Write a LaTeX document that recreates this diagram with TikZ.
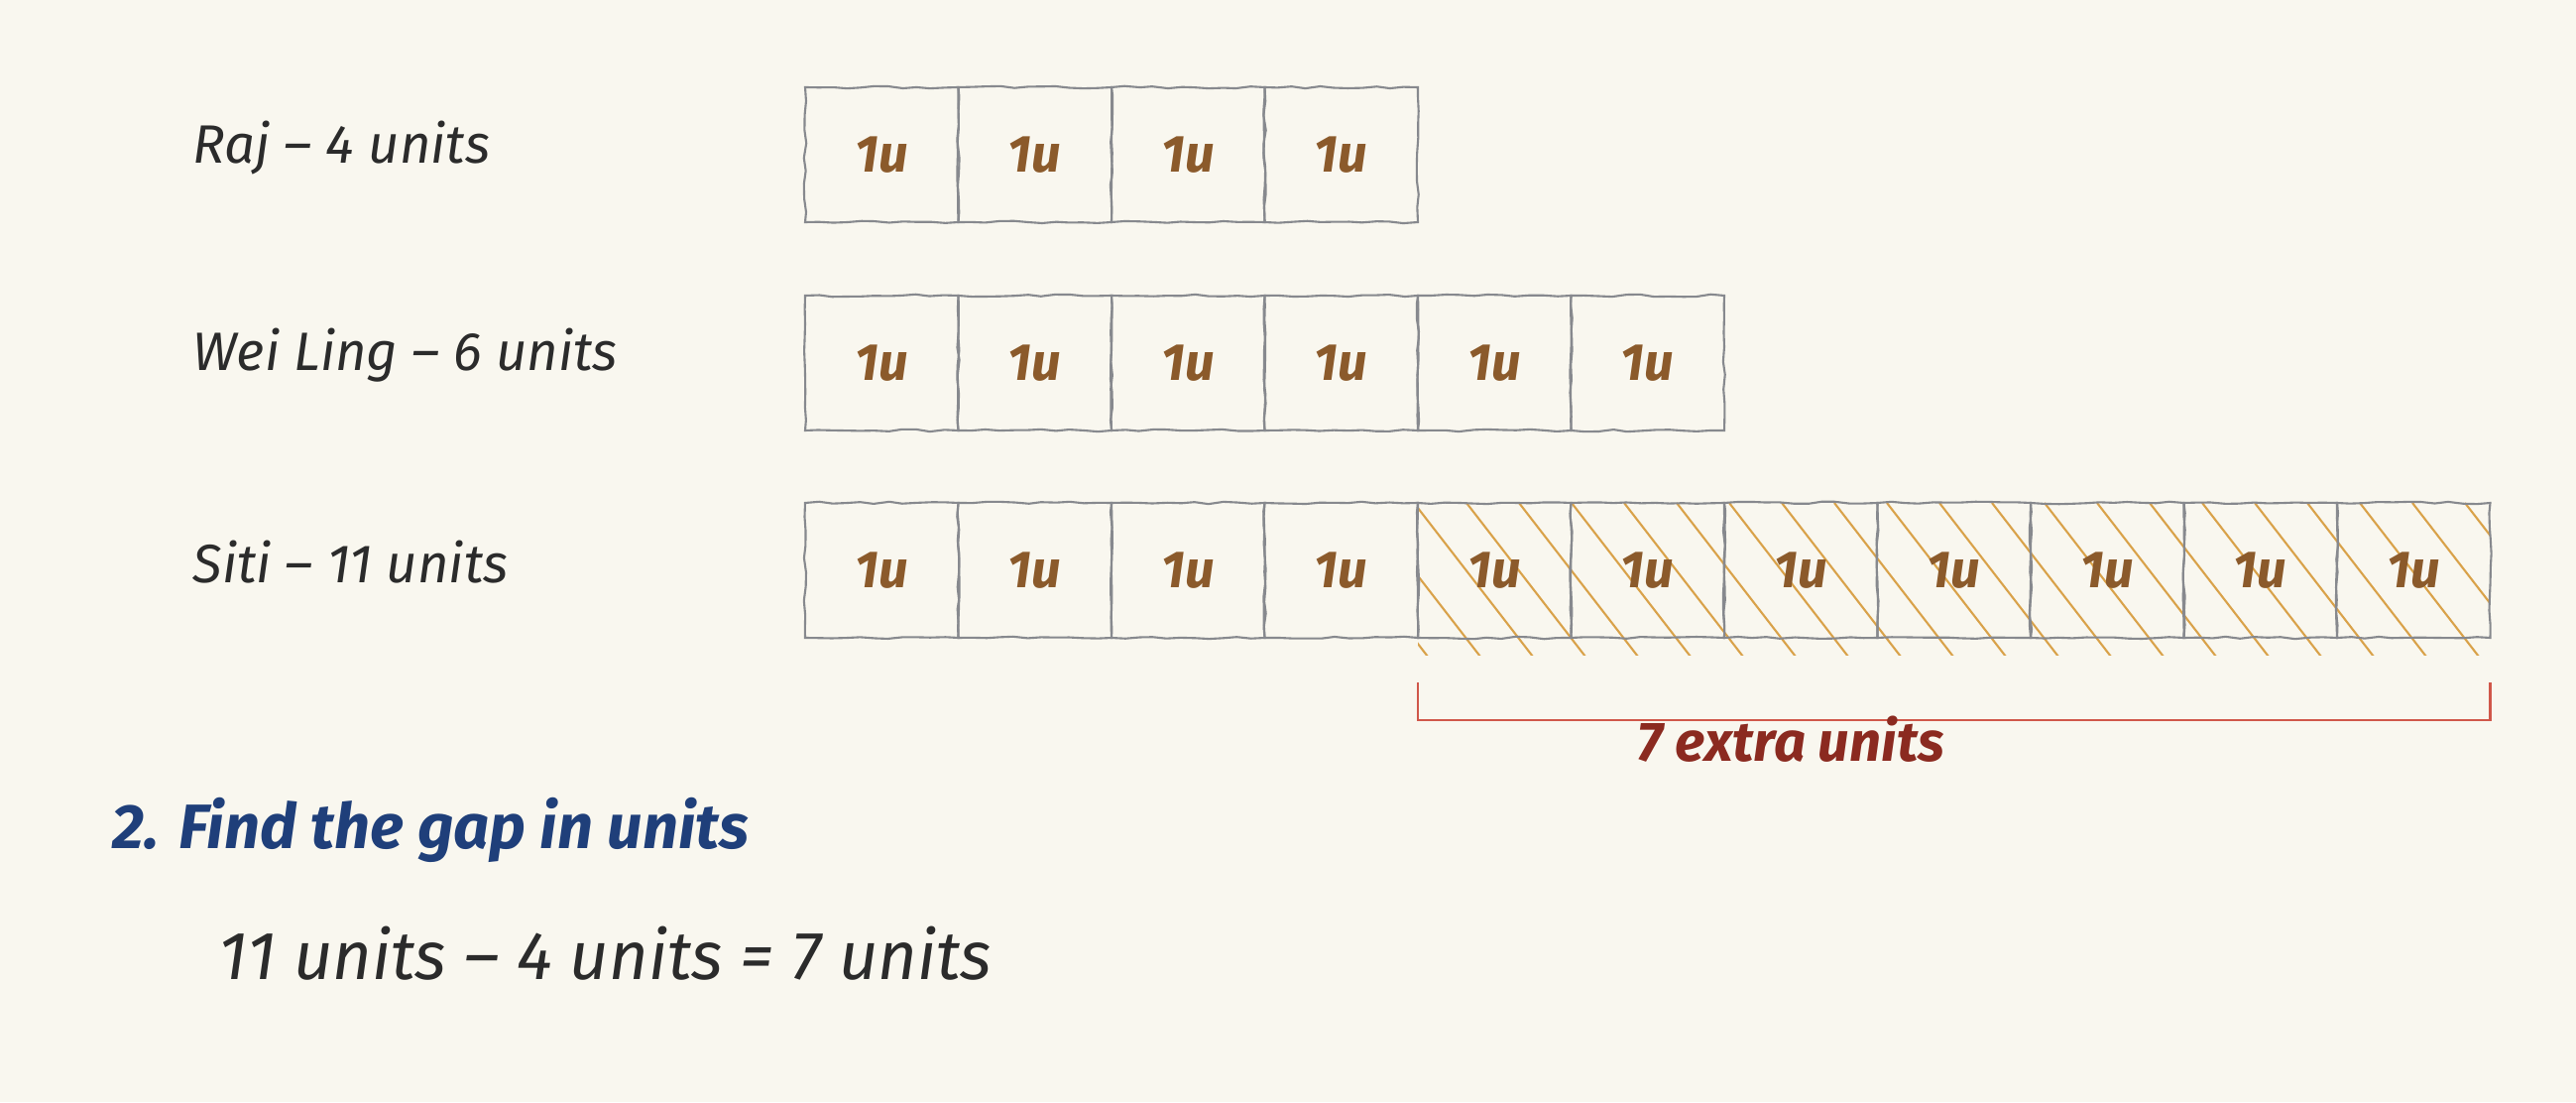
\documentclass[tikz,border=0pt]{standalone}
\usepackage{fontspec}
\setmainfont{Fira Sans}
\usepackage{xcolor}
\usepackage{tikz}
\usetikzlibrary{positioning, decorations.pathmorphing, backgrounds}
\definecolor{paperbg}{RGB}{249, 247, 239}
\definecolor{inkdark}{RGB}{43, 43, 43}
\definecolor{unitbrown}{RGB}{139, 90, 43}
\definecolor{hatchorange}{RGB}{217, 162, 74}
\definecolor{boxgray}{RGB}{135, 137, 142}
\definecolor{bracketred}{RGB}{208, 87, 74}
\definecolor{extrared}{RGB}{139, 42, 32}
\definecolor{titleblue}{RGB}{31, 63, 122}
\tikzset{
    unitbox/.style={draw=boxgray, line width=0.6pt, minimum width=1.545cm, minimum height=1.36cm,
        inner sep=0pt, outer sep=0pt, text=unitbrown,
        font=\fontsize{15}{18}\selectfont\bfseries\itshape,
        decorate, decoration={random steps, segment length=4pt, amplitude=0.35pt}},
    rowlabel/.style={anchor=west, inner sep=0pt, text=inkdark, font=\fontsize{15.5}{19}\selectfont\itshape}
}

\begin{document}
\begin{tikzpicture}
    \pgfmathsetseed{7}
    \useasboundingbox (0, 0) rectangle (25.98, 11.11);

    % Row labels
    \node[rowlabel] (rajlabel) at (1.94, 9.62) {Raj – 4 units};
    \node[rowlabel] (weilabel) at (1.94, 7.53) {Wei Ling – 6 units};
    \node[rowlabel] (sitilabel) at (1.94, 5.44) {Siti – 11 units};

    % Unit boxes
    \node[unitbox] (r1) at (8.8925, 9.55) {1u};
    \foreach \i [count=\j] in {2,...,4}
        \node[unitbox, right=0pt of r\j] (r\i) {1u};
    \node[unitbox] (w1) at (8.8925, 7.45) {1u};
    \foreach \i [count=\j] in {2,...,6}
        \node[unitbox, right=0pt of w\j] (w\i) {1u};
    \node[unitbox] (s1) at (8.8925, 5.36) {1u};
    \foreach \i [count=\j] in {2,...,11}
        \node[unitbox, right=0pt of s\j] (s\i) {1u};

    % Paper and hatching of the extra units
    \begin{scope}[on background layer]
        \fill[paperbg] (0, 0) rectangle (25.98, 11.11);
        \clip (s5.north west) rectangle ([yshift=-5pt]s11.south east);
        \foreach \k in {0,...,23}
            \draw[hatchorange, line width=0.6pt] ([xshift=\k*0.53cm-1.1cm]s5.north west) -- ++(1.2, -1.55);
    \end{scope}

    % Bracket
    \coordinate (brtopL) at ([yshift=-0.45cm]s5.south west);
    \coordinate (brbotL) at ([yshift=-0.83cm]s5.south west);
    \coordinate (brtopR) at ([yshift=-0.45cm]s11.south east);
    \coordinate (brbotR) at ([yshift=-0.83cm]s11.south east);
    \draw[bracketred, line width=0.8pt] (brtopL) -- (brbotL) -- (brbotR) -- (brtopR);
    \node[font=\fontsize{16}{19}\selectfont\bfseries\itshape, text=extrared] (extra) at (18.06, 3.66) {7 extra units};

    % Step 2
    \node[anchor=west, inner sep=0pt, font=\fontsize{18}{22}\selectfont\bfseries\itshape, text=titleblue] (gaptitle) at (1.13, 2.74) {2. Find the gap in units};
    \node[anchor=west, inner sep=0pt, font=\fontsize{19.5}{24}\selectfont\itshape, text=inkdark] (gapcalc) at (2.20, 1.50) {11 units – 4 units = 7 units};
\end{tikzpicture}
\end{document}
